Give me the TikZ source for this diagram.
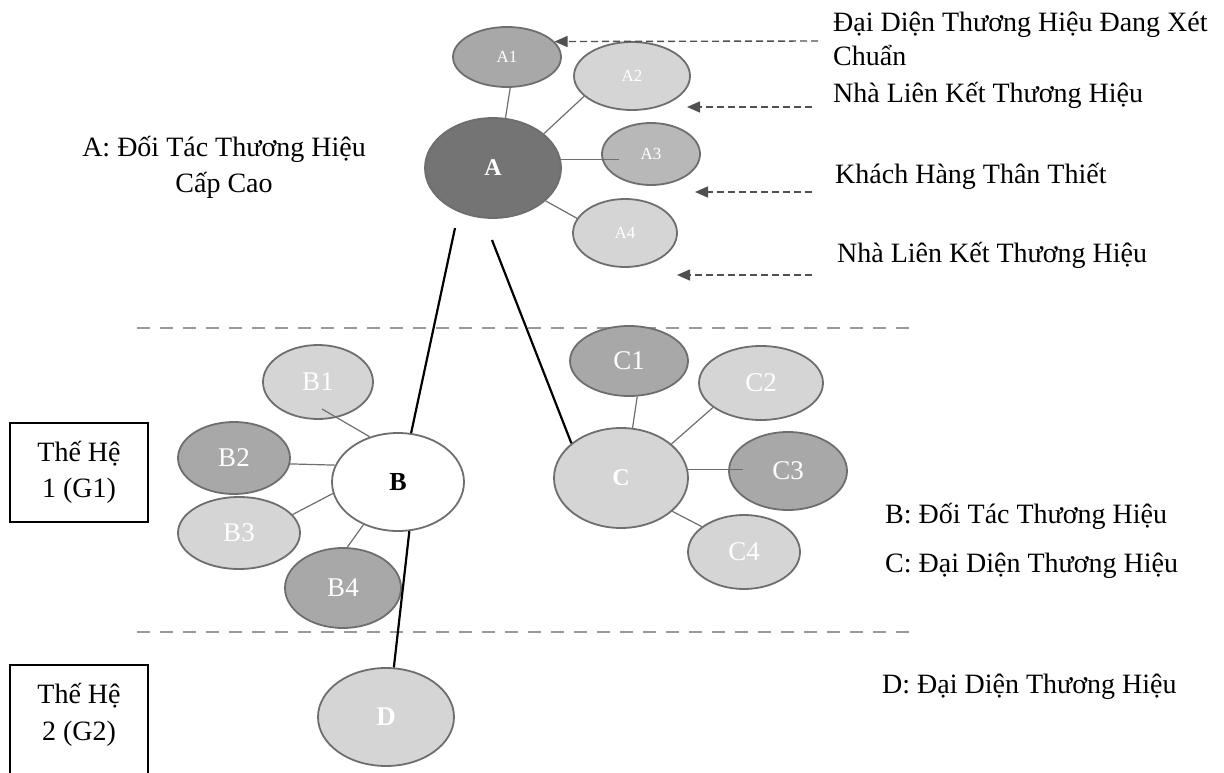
\documentclass[tikz,border=0pt]{standalone}
\usepackage{fontspec}
\setmainfont{Liberation Serif}
\usetikzlibrary{shapes.geometric,arrows.meta,calc}
\definecolor{edgegray}{HTML}{6E6E6E}
\definecolor{darkfill}{HTML}{747474}
\definecolor{midfill}{HTML}{A8A8A8}
\definecolor{midlfill}{HTML}{B8B8B8}
\definecolor{lightfill}{HTML}{D5D5D5}
\definecolor{sepgray}{HTML}{9A9A9A}
\definecolor{arrowgray}{HTML}{505050}
\begin{document}
\begin{tikzpicture}[x=1pt,y=-1pt,
  ell/.style n args={3}{ellipse,draw=edgegray,line width=1.8pt,inner sep=0pt,
      minimum width=#1pt,minimum height=#2pt,fill=#3},
  small/.style={font=\fontsize{17}{17}\selectfont,text=white},
  sat/.style={font=\fontsize{27}{27}\selectfont,text=white},
  big/.style={font=\fontsize{24}{24}\selectfont\bfseries},
  lbl/.style={font=\fontsize{28}{34}\selectfont,inner sep=0pt},
  link/.style={draw=edgegray,line width=1.2pt},
  main/.style={draw=black,line width=2.2pt},
  sep/.style={draw=sepgray,line width=2.6pt,dash pattern=on 13pt off 10pt},
  pointer/.style={draw=arrowgray,line width=1.4pt,dash pattern=on 7pt off 4pt,
      -{Triangle[length=13pt,width=11pt,fill=arrowgray]}},
  genbox/.style={draw=black,line width=1.2pt}]
\useasboundingbox (0,0) rectangle (1224,773);

% separators
\coordinate (s1l) at (137,328); \coordinate (s1r) at (910,328);
\coordinate (s2l) at (137,632); \coordinate (s2r) at (910,632);
\draw[sep] (s1l) -- (s1r);
\draw[sep] (s2l) -- (s2r);

% generation boxes
\begin{scope}
\clip (0,0) rectangle (1224,773);
\draw[genbox] (10,423) rectangle (148,522);
\draw[genbox] (10,665) rectangle (148,790);
\end{scope}
\node[lbl,anchor=base] (g1a) at (79,461) {Thế Hệ};
\node[lbl,anchor=base] (g1b) at (79,497) {1 (G1)};
\node[lbl,anchor=base] (g2a) at (79,703) {Thế Hệ};
\node[lbl,anchor=base] (g2b) at (79,740) {2 (G2)};

% ellipses
\node[ell={108}{60}{midfill},small] (A1) at (507,57) {A1};
\node[ell={116}{68}{lightfill},small] (A2) at (632,76) {A2};
\node[ell={136}{100}{darkfill},big,text=white] (A) at (493,168) {A};
\node[ell={98}{62}{midlfill},small] (A3) at (651,154) {A3};
\node[ell={104}{68}{lightfill},small] (A4) at (625,233) {A4};

\node[ell={132}{98}{white},big,text=black,font=\fontsize{26}{26}\selectfont\bfseries] (B) at (398,482) {B};
\node[ell={110}{74}{lightfill},sat] (B1) at (318,382) {B1};
\node[ell={112}{72}{midfill},sat] (B2) at (234,458) {B2};
\node[ell={122}{72}{lightfill},sat] (B3) at (239,533) {B3};
\node[ell={116}{80}{midfill},sat] (B4) at (343,588) {B4};

\node[ell={134}{100}{lightfill},big,text=white] (C) at (621,478) {C};
\node[ell={118}{70}{midfill},sat] (C1) at (629,361) {C1};
\node[ell={124}{74}{lightfill},sat] (C2) at (761,383) {C2};
\node[ell={118}{78}{midfill},sat] (C3) at (788,471) {C3};
\node[ell={112}{74}{lightfill},sat] (C4) at (744,552) {C4};

\node[ell={136}{98}{lightfill},big,text=white,font=\fontsize{27}{27}\selectfont\bfseries] (D) at (386,717) {D};

% satellite links
\draw[link] (A1.276) -- (A.76);
\draw[link] (A.34) -- (A2.203);
\draw[link] (A.7) -- ++(58,0);
\draw[link] (A.-32) -- (A4.163);

\draw[link] ($(B1)+(4,27)$) -- (B.122);
\draw[link] (B2.-6) -- (B.165);
\draw[link] (B3.19) -- (B.190);
\draw[link] (B4.84) -- (B.231);

\draw[link] (C1.-77) -- (C.77);
\draw[link] (C2.207) -- (C.34);
\draw[link] (C.7) -- ++(55,0);
\draw[link] (C.-33) -- (C4.149);

% main lines
\coordinate (ab) at (455,228);
\coordinate (ac) at (492,240);
\draw[main] (ab) -- (B.75);
\draw[main] (B.283) -- (D.81);
\draw[main] (ac) -- (C.145);

% pointer arrows
\coordinate (p1) at (818,41);
\coordinate (p2) at (812,107); \coordinate (q2) at (687,107);
\coordinate (p3) at (812,192); \coordinate (q3) at (695,192);
\coordinate (p4) at (812,275); \coordinate (q4) at (677,275);
\draw[pointer] (p1) -- (A1.18);
\draw[pointer] (p2) -- (q2);
\draw[pointer] (p3) -- (q3);
\draw[pointer] (p4) -- (q4);

% labels
\node[lbl,anchor=base west] (t1) at (833,32) {Đại Diện Thương Hiệu Đang Xét};
\node[lbl,anchor=base west] (t1b) at (833,66) {Chuẩn};
\node[lbl,anchor=base west] (t2) at (833,103) {Nhà Liên Kết Thương Hiệu};
\node[lbl,anchor=base west] (t3) at (835,184) {Khách Hàng Thân Thiết};
\node[lbl,anchor=base west] (t4) at (837,262) {Nhà Liên Kết Thương Hiệu};

\node[lbl,anchor=base] (la) at (224,157) {A: Đối Tác Thương Hiệu};
\node[lbl,anchor=base] (la2) at (224,193) {Cấp Cao};

\node[lbl,anchor=base west] (lb) at (885,523) {B: Đối Tác Thương Hiệu};
\node[lbl,anchor=base west] (lc) at (885,572) {C: Đại Diện Thương Hiệu};
\node[lbl,anchor=base west] (ld) at (882,693) {D: Đại Diện Thương Hiệu};
\end{tikzpicture}
\end{document}
